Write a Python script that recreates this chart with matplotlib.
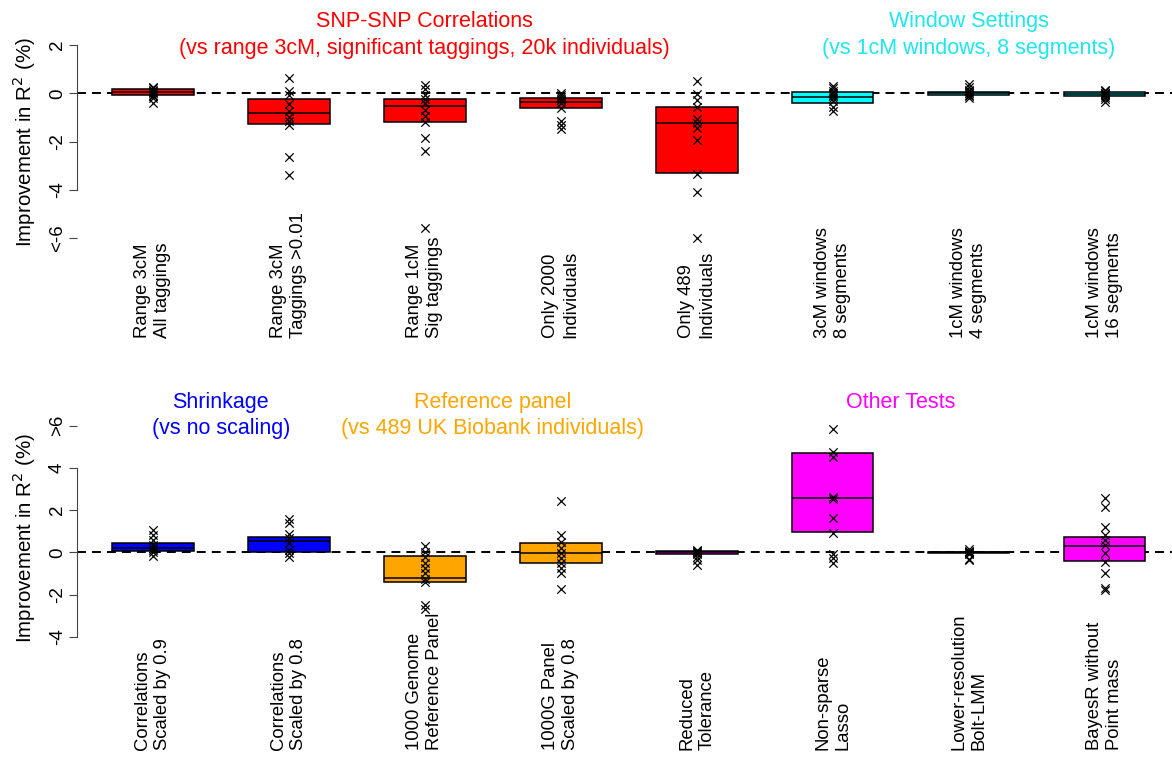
import numpy as np
import matplotlib
matplotlib.use("Agg")
import matplotlib.pyplot as plt
from matplotlib.transforms import blended_transform_factory

plt.rcParams["font.family"] = ["Liberation Sans", "DejaVu Sans"]

# --- top panel: LD / window settings ---
top_labels = [
    "Range 3cM\nAll taggings", "Range 3cM\nTaggings >0.01", "Range 1cM\nSig taggings",
    "Only 2000\nIndividuals", "Only 489\nIndividuals", "3cM windows\n8 segments",
    "1cM windows\n4 segments", "1cM windows\n16 segments",
]
top_colors = ["red"] * 5 + ["cyan"] * 3
top_q1 = [-0.06, -1.28, -1.17, -0.60, -3.31, -0.39, -0.08, -0.10]
top_med = [0.05, -0.83, -0.54, -0.35, -1.22, -0.14, 0.00, -0.02]
top_q3 = [0.16, -0.25, -0.25, -0.18, -0.58, 0.05, 0.06, 0.05]
top_points = [
    [0.28, 0.20, 0.15, 0.10, 0.05, 0.02, -0.05, -0.12, -0.20, -0.40],
    [0.65, 0.10, -0.05, -0.45, -0.75, -1.00, -1.15, -1.30, -2.65, -3.40],
    [0.34, 0.17, -0.07, -0.25, -0.41, -0.69, -0.94, -1.17, -1.86, -2.39, -5.59],
    [0.00, -0.08, -0.14, -0.22, -0.28, -0.41, -0.62, -1.13, -1.31, -1.49],
    [0.52, -0.04, -0.28, -0.58, -1.08, -1.22, -1.45, -1.93, -3.34, -4.07, -6.00],
    [0.30, 0.20, 0.10, 0.03, -0.05, -0.12, -0.20, -0.30, -0.55, -0.75],
    [0.38, 0.25, 0.15, 0.08, 0.03, 0.00, -0.05, -0.12, -0.20],
    [0.15, 0.08, 0.03, 0.00, -0.04, -0.08, -0.15, -0.25, -0.35],
]
top_yticks = [2, 0, -2, -4, -6]
top_yticklabels = ["2", "0", "-2", "-4", "<-6"]

# --- bottom panel: shrinkage / reference panel / other tests ---
bot_labels = [
    "Correlations\nScaled by 0.9", "Correlations\nScaled by 0.8", "1000 Genome\nReference Panel",
    "1000G Panel\nScaled by 0.8", "Reduced\nTolerance", "Non-sparse\nLasso",
    "Lower-resolution\nBolt-LMM", "BayesR without\nPoint mass",
]
bot_colors = ["blue", "blue", "orange", "orange", "magenta", "magenta", "magenta", "magenta"]
bot_q1 = [0.06, 0.01, -1.42, -0.52, -0.08, 0.95, -0.03, -0.41]
bot_med = [0.19, 0.54, -1.23, -0.05, 0.00, 2.59, 0.00, 0.30]
bot_q3 = [0.43, 0.71, -0.16, 0.43, 0.05, 4.69, 0.02, 0.71]
bot_points = [
    [1.06, 0.82, 0.58, 0.35, 0.19, 0.10, 0.03, -0.16],
    [1.56, 1.37, 0.87, 0.66, 0.43, 0.11, -0.05, -0.24],
    [0.31, 0.03, -0.21, -0.49, -0.76, -1.00, -1.28, -1.39, -2.50, -2.70],
    [2.45, 0.82, 0.50, 0.19, -0.05, -0.26, -0.52, -0.76, -0.96, -1.75],
    [0.12, 0.05, 0.02, -0.03, -0.08, -0.20, -0.38, -0.58],
    [5.83, 4.77, 4.53, 2.61, 2.53, 1.61, 0.90, -0.08, -0.28, -0.52],
    [0.15, 0.08, 0.03, 0.00, -0.03, -0.08, -0.30, -0.38],
    [2.56, 2.16, 1.21, 0.82, 0.58, 0.35, -0.05, -0.45, -0.97, -1.71, -1.80],
]
bot_yticks = [6, 4, 2, 0, -2, -4]
bot_yticklabels = [">6", "4", "2", "0", "-2", "-4"]

W, H = 1172, 757
TITLE_SIZE = 15.5
fig = plt.figure(figsize=(W / 100, H / 100), dpi=100)


def px_rect(left, top, right, bottom):
    return [left / W, 1 - bottom / H, (right - left) / W, (bottom - top) / H]


def draw_panel(ax, labels, colors, q1, med, q3, points, yticks, yticklabels,
               spine_bounds, clip, label_bottom_px, ylab_center):
    x = np.arange(1, len(labels) + 1)
    ax.axhline(0, color="black", lw=1.4, ls=(0, (4.6, 3.1)), zorder=1)
    ax.bar(x, np.array(q3) - np.array(q1), bottom=q1, width=0.6, color=colors,
           edgecolor="black", linewidth=1.1, zorder=2)
    ax.hlines(med, x - 0.3, x + 0.3, color="black", lw=1.1, zorder=3)
    for xi, pts in zip(x, points):
        vals = np.clip(pts, clip[0], clip[1])
        ax.scatter(np.full(len(vals), xi), vals, marker="x", s=36, color="black",
                   linewidths=0.9, zorder=4, clip_on=False)

    for side in ["top", "right", "bottom"]:
        ax.spines[side].set_visible(False)
    ax.spines["left"].set_bounds(*spine_bounds)
    ax.spines["left"].set_color("#444444")
    ax.spines["left"].set_linewidth(0.8)
    ax.set_xticks([])
    ax.set_yticks(yticks)
    ax.set_yticklabels(yticklabels, rotation=90, va="center", fontsize=13.5)
    ax.tick_params(axis="y", length=6, width=0.8, color="#444444", pad=2)
    ax.patch.set_visible(False)

    trans = blended_transform_factory(ax.transData, fig.transFigure)
    for xi, lab in zip(x, labels):
        ax.text(xi, 1 - label_bottom_px / H, lab, transform=trans, rotation=90,
                ha="center", va="bottom", multialignment="left", fontsize=13.3,
                linespacing=1.25)

    ytrans = blended_transform_factory(fig.transFigure, ax.transData)
    ax.text(24 / W, ylab_center, r"Improvement in R$^2$ (%)", transform=ytrans,
            rotation=90, ha="center", va="center", fontsize=14.8)


ax1 = fig.add_axes(px_rect(77, 10, W, 250))
ax1.set_xlim(0.443, 8.495)
ax1.set_ylim(-6.483, 3.446)
draw_panel(ax1, top_labels, top_colors, top_q1, top_med, top_q3, top_points,
           top_yticks, top_yticklabels, (-4, 2), (-6, 6), 338, -2)
ax1.text(3, 2.99, "SNP-SNP Correlations", color="red", ha="center", va="center",
         fontsize=TITLE_SIZE)
ax1.text(3, 1.87, "(vs range 3cM, significant taggings, 20k individuals)", color="red",
         ha="center", va="center", fontsize=TITLE_SIZE)
ax1.text(7, 2.99, "Window Settings", color="#1EE6EE", ha="center", va="center",
         fontsize=TITLE_SIZE)
ax1.text(7, 1.87, "(vs 1cM windows, 8 segments)", color="#1EE6EE", ha="center",
         va="center", fontsize=TITLE_SIZE)

ax2 = fig.add_axes(px_rect(77, 385, W, 665))
ax2.set_xlim(0.443, 8.495)
ax2.set_ylim(-5.341, 7.929)
draw_panel(ax2, bot_labels, bot_colors, bot_q1, bot_med, bot_q3, bot_points,
           bot_yticks, bot_yticklabels, (-4, 4), (-6, 6), 750, 0.7)
ax2.text(1.5, 7.08, "Shrinkage", color="blue", ha="center", va="center", fontsize=TITLE_SIZE)
ax2.text(1.5, 5.89, "(vs no scaling)", color="blue", ha="center", va="center",
         fontsize=TITLE_SIZE)
ax2.text(3.5, 7.08, "Reference panel", color="orange", ha="center", va="center",
         fontsize=TITLE_SIZE)
ax2.text(3.5, 5.89, "(vs 489 UK Biobank individuals)", color="orange", ha="center",
         va="center", fontsize=TITLE_SIZE)
ax2.text(6.5, 7.08, "Other Tests", color="magenta", ha="center", va="center",
         fontsize=TITLE_SIZE)

fig.savefig("out.png", dpi=100, facecolor="white")
